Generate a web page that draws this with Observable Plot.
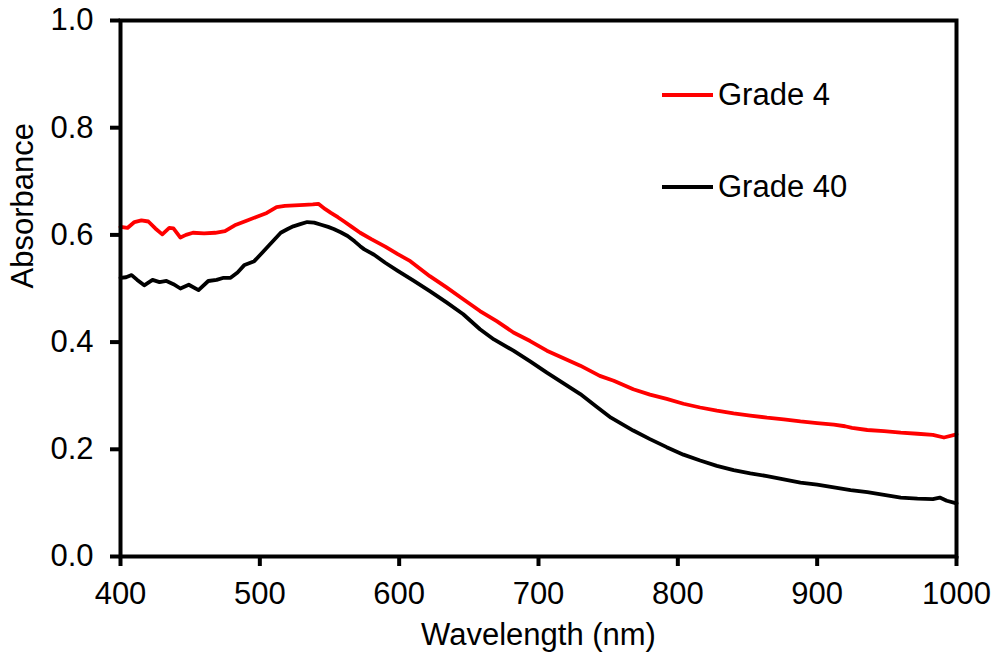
<!DOCTYPE html>
<html>
<head>
<meta charset="utf-8">
<script src="https://cdn.jsdelivr.net/npm/d3@7"></script>
<script src="https://cdn.jsdelivr.net/npm/@observablehq/plot@0.6"></script>
<style>
  body { margin: 0; background: #fff; }
  #wrap { position: relative; width: 996px; height: 657px; font-family: "Liberation Sans", Arial, sans-serif; }
  #legend { position: absolute; left: 0; top: 0; pointer-events: none; }
</style>
</head>
<body>
<div id="wrap"><div id="chart"></div><div id="legend"></div></div>
<script>
// ---- data ----
const seriesNames = ["Grade 4", "Grade 40"];
const seriesColors = ["#ff0000", "#000000"];
const xTicks = [400, 500, 600, 700, 800, 900, 1000];
const yTicks = [0, 0.2, 0.4, 0.6, 0.8, 1.0];

const grade4Wavelength = [400,405,410,415,420,425,430,435,438,443,447,452,460,468,475,482,490,497,505,512,518,525,532,538,542,547,551,556,560,566,572,580,590,599,608,615,622,634,646,658,670,682,694,706,718,730,744,754,768,780,792,804,816,828,840,852,864,876,888,900,912,920,925,936,948,960,972,983,991,1000];
const grade4Absorbance = [0.615,0.613,0.624,0.627,0.625,0.612,0.601,0.613,0.612,0.595,0.600,0.604,0.603,0.604,0.607,0.618,0.626,0.633,0.641,0.652,0.654,0.655,0.656,0.657,0.658,0.648,0.641,0.633,0.626,0.615,0.604,0.592,0.578,0.564,0.551,0.537,0.523,0.502,0.480,0.458,0.439,0.418,0.402,0.384,0.370,0.356,0.337,0.328,0.312,0.302,0.294,0.285,0.278,0.272,0.267,0.263,0.259,0.256,0.252,0.249,0.246,0.243,0.240,0.236,0.234,0.231,0.229,0.227,0.222,0.228];

const grade40Wavelength = [400,404,408,412,417,423,428,433,438,443,449,456,463,469,474,479,484,489,496,500,505,510,515,520,524,529,534,539,544,549,553,558,563,568,572,575,582,590,599,610,622,634,646,658,668,682,694,706,718,730,741,752,768,780,792,804,816,828,840,852,864,876,888,900,912,924,936,948,960,972,983,988,993,1000];
const grade40Absorbance = [0.520,0.521,0.525,0.516,0.506,0.516,0.512,0.514,0.508,0.500,0.507,0.497,0.514,0.516,0.520,0.520,0.530,0.544,0.551,0.562,0.576,0.590,0.604,0.611,0.616,0.620,0.624,0.623,0.619,0.615,0.611,0.605,0.598,0.588,0.579,0.573,0.563,0.548,0.533,0.515,0.495,0.474,0.452,0.424,0.405,0.384,0.364,0.343,0.323,0.303,0.281,0.259,0.235,0.219,0.204,0.190,0.179,0.169,0.161,0.155,0.150,0.144,0.138,0.134,0.129,0.124,0.120,0.115,0.110,0.108,0.107,0.110,0.104,0.099];

const xLabel = "Wavelength (nm)";
const yLabel = "Absorbance";

// ---- build tables ----
const grade4 = grade4Wavelength.map((w, i) => ({wl: w, abs: grade4Absorbance[i]}));
const grade40 = grade40Wavelength.map((w, i) => ({wl: w, abs: grade40Absorbance[i]}));

const FONT = "Liberation Sans, Arial, sans-serif";
const FS = 31;

const chart = Plot.plot({
  width: 996,
  height: 657,
  marginLeft: 120,
  marginRight: 40,
  marginTop: 20,
  marginBottom: 101,
  style: {fontFamily: FONT, fontSize: FS + "px", color: "#000", background: "#fff", overflow: "visible"},
  x: {domain: [400, 1000], label: null},
  y: {domain: [0, 1], label: null},
  marks: [
    Plot.line(grade4, {x: "wl", y: "abs", stroke: seriesColors[0], strokeWidth: 3.8}),
    Plot.line(grade40, {x: "wl", y: "abs", stroke: seriesColors[1], strokeWidth: 3.8}),
    Plot.frame({stroke: "#000", strokeWidth: 4}),
    Plot.axisX({ticks: xTicks, tickFormat: d => String(d), tickSize: 10, tickPadding: 15, strokeWidth: 4, fontSize: FS, fill: "#000", label: null}),
    Plot.axisY({ticks: yTicks, tickFormat: d => d.toFixed(1), tickSize: 10, tickPadding: 17, strokeWidth: 4, fontSize: FS, fill: "#000", label: null}),
    Plot.text([xLabel], {text: d => d, frameAnchor: "bottom", dy: 88, fontSize: FS, fill: "#000"}),
    Plot.text([yLabel], {text: d => d, frameAnchor: "left", rotate: -90, dx: -97, fontSize: FS, fill: "#000"})
  ]
});
document.getElementById("chart").appendChild(chart);

// ---- legend (overlay) ----
const legendY = [95, 187];
const ns = "http://www.w3.org/2000/svg";
const lsvg = document.createElementNS(ns, "svg");
lsvg.setAttribute("width", 996);
lsvg.setAttribute("height", 657);
seriesNames.forEach((name, i) => {
  const ln = document.createElementNS(ns, "line");
  ln.setAttribute("x1", 662); ln.setAttribute("x2", 713);
  ln.setAttribute("y1", legendY[i]); ln.setAttribute("y2", legendY[i]);
  ln.setAttribute("stroke", seriesColors[i]); ln.setAttribute("stroke-width", 4);
  lsvg.appendChild(ln);
  const tx = document.createElementNS(ns, "text");
  tx.setAttribute("x", 718); tx.setAttribute("y", legendY[i] + 10);
  tx.setAttribute("font-family", FONT); tx.setAttribute("font-size", FS);
  tx.setAttribute("fill", "#000");
  tx.textContent = name;
  lsvg.appendChild(tx);
});
document.getElementById("legend").appendChild(lsvg);
</script>
</body>
</html>
